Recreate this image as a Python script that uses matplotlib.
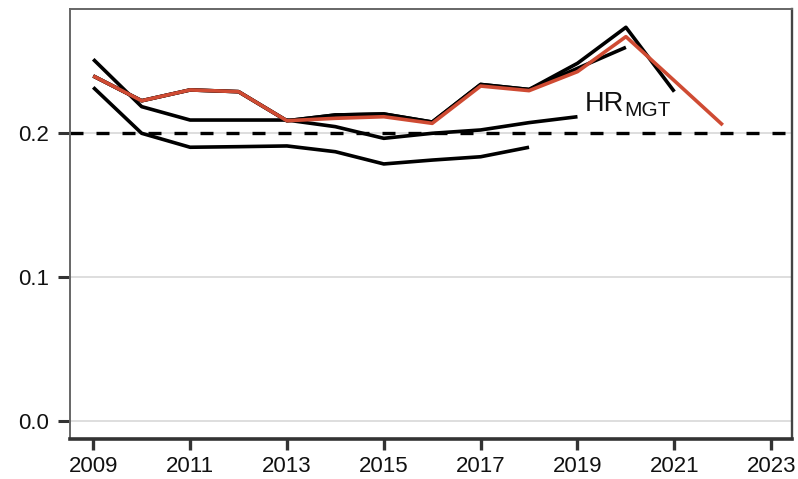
import numpy as np
import matplotlib
matplotlib.use("Agg")
import matplotlib.pyplot as plt

plt.rcParams['font.family'] = ['Liberation Sans', 'DejaVu Sans']

# terminal assessment (red) and retrospective peels (black)
years = np.arange(2009, 2023)
hr_terminal = [0.2394, 0.2222, 0.2297, 0.2285, 0.2083, 0.2100, 0.2111,
               0.2065, 0.2324, 0.2292, 0.2424, 0.2667, 0.2361, 0.2053]
hr_peel1 = [0.2394, 0.2222, 0.2297, 0.2285, 0.2083, 0.2123, 0.2130,
            0.2074, 0.2335, 0.2300, 0.2482, 0.2732, 0.2285]
hr_peel2 = [0.2394, 0.2222, 0.2297, 0.2285, 0.2083, 0.2123, 0.2130,
            0.2074, 0.2335, 0.2300, 0.2447, 0.2593]
hr_peel3 = [0.2510, 0.2181, 0.2088, 0.2088, 0.2088, 0.2042, 0.1961,
            0.1996, 0.2019, 0.2070, 0.2111]
hr_peel4 = [0.2315, 0.1996, 0.1899, 0.1903, 0.1908, 0.1868, 0.1783,
            0.1810, 0.1833, 0.1899]
peels = [hr_peel1, hr_peel2, hr_peel3, hr_peel4]

hr_mgt = 0.2
yticks = [0.0, 0.1, 0.2]
xticks = np.arange(2009, 2024, 2)

fig = plt.figure(figsize=(7.98, 4.79), dpi=100)
ax = fig.add_axes([0.0877, 0.0835, 0.9048, 0.8977])

for v in yticks:
    ax.axhline(v, color='#d4d4d4', lw=1.1, zorder=0)
ax.axhline(hr_mgt, color='black', lw=2.4, ls=(0, (3.9, 3.9)), zorder=1)

for p in peels:
    ax.plot(years[:len(p)], p, color='black', lw=2.6,
            solid_capstyle='butt', zorder=2)
ax.plot(years, hr_terminal, color='#cf4b33', lw=2.6,
        solid_capstyle='butt', zorder=3)

hr = ax.text(2019.15, 0.2150, 'HR', fontsize=19.5, ha='left', va='baseline',
             color='#111111')
ax.annotate('MGT', xy=(1.0, 0.0), xycoords=hr, xytext=(0.5, 0.5),
            textcoords='offset points', fontsize=15, ha='left',
            va='baseline', color='#111111')

ax.set_xlim(2008.52, 2023.43)
ax.set_ylim(-0.0127, 0.2859)
ax.set_xticks(xticks)
ax.set_yticks(yticks)
ax.set_yticklabels(['0.0', '0.1', '0.2'])

ax.tick_params(axis='x', length=8, width=2.4, color='#333333',
               labelsize=16, pad=4, labelcolor='#111111')
ax.tick_params(axis='y', length=9, width=2.2, color='#333333',
               labelsize=16, pad=6, labelcolor='#111111')

for s in ['left', 'top']:
    ax.spines[s].set_color('#666666')
    ax.spines[s].set_linewidth(1.4)
ax.spines['right'].set_color('#444444')
ax.spines['right'].set_linewidth(1.7)
ax.spines['bottom'].set_color('#333333')
ax.spines['bottom'].set_linewidth(2.6)

fig.savefig('out.png', dpi=100)
